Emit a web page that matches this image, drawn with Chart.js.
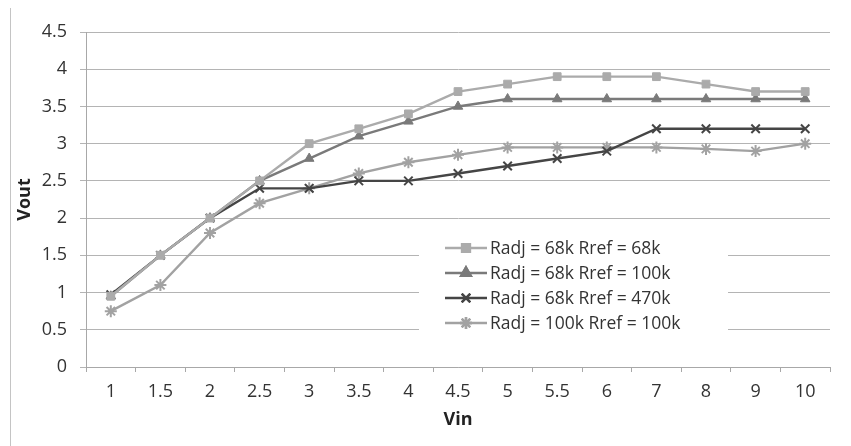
<!DOCTYPE html>
<html>
<head>
<meta charset="utf-8">
<script src="https://cdn.jsdelivr.net/npm/chart.js@4/dist/chart.umd.min.js"></script>
<style>
  html, body { margin: 0; padding: 0; background: #fff; }
  #wrap { width: 851px; height: 446px; position: relative; }
</style>
</head>
<body>
<div id="wrap"><canvas id="voutChart"></canvas></div>
<script>
// Vin categories (x axis)
const vinLabels = ["1", "1.5", "2", "2.5", "3", "3.5", "4", "4.5", "5", "5.5", "6", "7", "8", "9", "10"];

// Vout readings for each resistor combination
const r68k68k   = [0.95, 1.5, 2.0, 2.5, 3.0, 3.2, 3.4, 3.7, 3.8, 3.9, 3.9, 3.9, 3.8, 3.7, 3.7];
const r68k100k  = [0.95, 1.5, 2.0, 2.5, 2.8, 3.1, 3.3, 3.5, 3.6, 3.6, 3.6, 3.6, 3.6, 3.6, 3.6];
const r68k470k  = [0.97, 1.5, 2.0, 2.4, 2.4, 2.5, 2.5, 2.6, 2.7, 2.8, 2.9, 3.2, 3.2, 3.2, 3.2];
const r100k100k = [0.75, 1.1, 1.8, 2.2, 2.4, 2.6, 2.75, 2.85, 2.95, 2.95, 2.95, 2.95, 2.93, 2.9, 3.0];

const seriesNames = ["Radj = 68k Rref = 68k", "Radj = 68k Rref = 100k", "Radj = 68k Rref = 470k", "Radj = 100k Rref = 100k"];
const yTicks = [0, 0.5, 1, 1.5, 2, 2.5, 3, 3.5, 4, 4.5];

const FONT = "'Open Sans', 'Noto Sans', sans-serif";

function makeSet(label, data, color, style, radius) {
  return {
    label: label,
    data: data,
    borderColor: color,
    backgroundColor: color,
    borderWidth: 2.4,
    pointStyle: style,
    pointRadius: radius,
    pointBorderWidth: style === "crossRot" || style === "star" ? 2 : 1,
    pointBorderColor: color,
    pointBackgroundColor: color,
    tension: 0,
    fill: false
  };
}

// legend drawn inside the plot area, the way the spreadsheet put it
const innerLegend = {
  id: "innerLegend",
  afterDraw(chart) {
    const ctx = chart.ctx;
    ctx.save();
    // outer frame line on the left
    ctx.strokeStyle = "#c4c4c4";
    ctx.lineWidth = 1;
    ctx.beginPath();
    ctx.moveTo(10.5, 8);
    ctx.lineTo(10.5, 446);
    ctx.stroke();

    ctx.fillStyle = "#fff";
    ctx.fillRect(419, 232, 309, 111);
    ctx.font = "17.5px " + FONT;
    ctx.textBaseline = "middle";
    chart.data.datasets.forEach((ds, i) => {
      const y = 248 + i * 25;
      ctx.strokeStyle = ds.borderColor;
      ctx.lineWidth = 2.4;
      ctx.beginPath();
      ctx.moveTo(445, y);
      ctx.lineTo(487, y);
      ctx.stroke();
      Chart.helpers.drawPoint(ctx, {
        pointStyle: ds.pointStyle,
        radius: ds.pointRadius,
        borderWidth: ds.pointBorderWidth
      }, 466, y);
      ctx.fillStyle = ds.borderColor;
      ctx.fill();
      ctx.stroke();
      ctx.fillStyle = "#333";
      ctx.fillText(seriesNames[i], 490, y + 1);
    });
    ctx.restore();
  }
};

new Chart(document.getElementById("voutChart"), {
  type: "line",
  data: {
    labels: vinLabels,
    datasets: [
      makeSet(seriesNames[0], r68k68k, "#ababab", "rect", 5.5),
      makeSet(seriesNames[1], r68k100k, "#7a7a7a", "triangle", 5.5),
      makeSet(seriesNames[2], r68k470k, "#454545", "crossRot", 6),
      makeSet(seriesNames[3], r100k100k, "#a2a2a2", "star", 6)
    ]
  },
  options: {
    responsive: true,
    maintainAspectRatio: false,
    animation: false,
    layout: { padding: { top: 32, right: 21, left: 0, bottom: 0 } },
    plugins: {
      legend: { display: false },
      tooltip: { enabled: false }
    },
    scales: {
      x: {
        offset: true,
        grid: {
          offset: true,
          drawOnChartArea: false,
          drawTicks: true,
          tickLength: 5,
          color: "#a8a8a8"
        },
        border: { color: "#a8a8a8", width: 1 },
        ticks: {
          color: "#333",
          font: { family: FONT, size: 18 },
          padding: 9,
          maxRotation: 0,
          autoSkip: false
        },
        title: {
          display: true,
          text: "Vin",
          color: "#222",
          font: { family: FONT, size: 18, weight: "bold" },
          padding: { top: 2, bottom: 15 }
        },
        afterFit(scale) { scale.height = 79; }
      },
      y: {
        min: 0,
        max: 4.5,
        afterBuildTicks(scale) { scale.ticks = yTicks.map(v => ({ value: v })); },
        grid: {
          color: "#b4b4b4",
          lineWidth: 1,
          drawTicks: true,
          tickLength: 6
        },
        border: { color: "#a8a8a8", width: 1 },
        ticks: {
          color: "#333",
          font: { family: FONT, size: 18 },
          padding: 13,
          callback: v => String(v)
        },
        title: {
          display: true,
          text: "Vout",
          color: "#222",
          font: { family: FONT, size: 18, weight: "bold" },
          padding: { top: 14, bottom: 0 }
        },
        afterFit(scale) { scale.width = 86; }
      }
    }
  },
  plugins: [innerLegend]
});
</script>
</body>
</html>
